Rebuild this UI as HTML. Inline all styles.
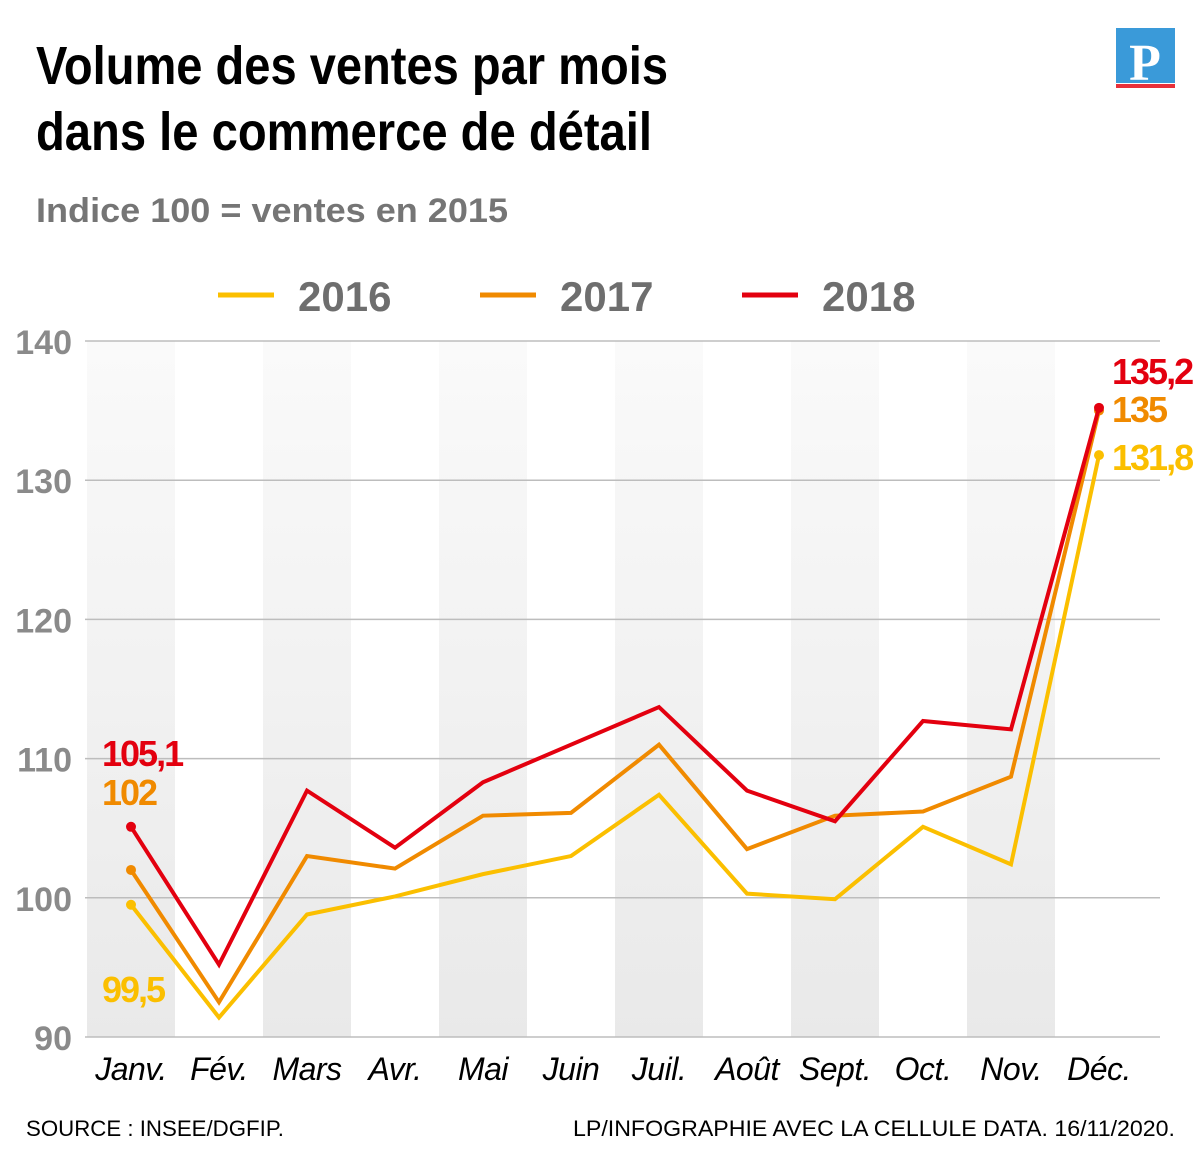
<!DOCTYPE html>
<html><head><meta charset="utf-8"><style>
html,body{margin:0;padding:0;background:#fff;}
svg{display:block;font-family:"Liberation Sans",sans-serif;}
</style></head><body>
<svg id="chart" width="1200" height="1151" viewBox="0 0 1200 1151">
<defs><linearGradient id="stripe" x1="0" y1="0" x2="0" y2="1"><stop offset="0" stop-color="#fafafa"/><stop offset="1" stop-color="#e9e9e9"/></linearGradient></defs>
<text x="36" y="84" font-size="54" font-weight="bold" fill="#000" textLength="632" lengthAdjust="spacingAndGlyphs">Volume des ventes par mois</text>
<text x="36" y="150" font-size="54" font-weight="bold" fill="#000" textLength="616" lengthAdjust="spacingAndGlyphs">dans le commerce de détail</text>
<text x="36" y="222" font-size="34" font-weight="bold" fill="#757575" textLength="472" lengthAdjust="spacingAndGlyphs">Indice 100 = ventes en 2015</text>
<g>
<rect x="1116" y="28" width="59" height="55" fill="#3a9ad9"/>
<rect x="1116" y="84" width="59" height="4" fill="#e8303a"/>
<text x="1145" y="80" font-size="52" font-weight="bold" fill="#fff" text-anchor="middle" font-family="Liberation Serif, serif">P</text>
</g>
<g id="legend"></g>
<g id="stripes"></g><g id="grid"></g><g id="lines"></g><g id="labels"></g>
<text x="26" y="1136" font-size="22" fill="#000" textLength="258" lengthAdjust="spacingAndGlyphs">SOURCE : INSEE/DGFIP.</text>
<text x="1175" y="1136" font-size="22" fill="#000" text-anchor="end" textLength="602" lengthAdjust="spacingAndGlyphs">LP/INFOGRAPHIE AVEC LA CELLULE DATA.  16/11/2020.</text>
</svg>
<script>
const months=["Janv.","Fév.","Mars","Avr.","Mai","Juin","Juil.","Août","Sept.","Oct.","Nov.","Déc."];
const series2016=[99.5,91.4,98.8,100.1,101.7,103.0,107.4,100.3,99.9,105.1,102.4,131.8];
const series2017=[102,92.5,103.0,102.1,105.9,106.1,111.0,103.5,105.9,106.2,108.7,135];
const series2018=[105.1,95.2,107.7,103.6,108.3,111.0,113.7,107.7,105.5,112.7,112.1,135.2];
const yTicks=[90,100,110,120,130,140];
const seriesNames=["2016","2017","2018"];
const colors=["#fbbf00","#f08a00","#e3000f"];
const NS="http://www.w3.org/2000/svg";
const x=i=>131+i*88;
const y=v=>1037-(v-90)*13.92;
function mk(tag,attrs,parent,text){const e=document.createElementNS(NS,tag);for(const k in attrs)e.setAttribute(k,attrs[k]);if(text!==undefined)e.textContent=text;parent.appendChild(e);return e;}
const st=document.getElementById('stripes'),gr=document.getElementById('grid'),ln=document.getElementById('lines'),lb=document.getElementById('labels'),lg=document.getElementById('legend');
months.forEach((m,i)=>{
 if(i%2===0){const r=mk('rect',{x:x(i)-44,y:y(140),width:88,height:y(90)-y(140),fill:'url(#stripe)'},st);
 
 }
 const t=mk('text',{x:x(i),y:1080,'font-size':32,'font-style':'italic','text-anchor':'middle',fill:'#000','letter-spacing':-0.5},lb,m);
 
 
});
yTicks.forEach(v=>{
 const l=mk('line',{x1:85,x2:1160,y1:y(v),y2:y(v),stroke:'#bdbdbd','stroke-width':1.5},gr);
 
 
 const t=mk('text',{x:72,y:y(v)+13,'font-size':34,'font-weight':'bold','text-anchor':'end',fill:'#8a8a8a'},gr,String(v));
 
 
});
[series2016,series2017,series2018].forEach((s,k)=>{
 const p=mk('polyline',{points:s.map((v,i)=>x(i)+','+y(v)).join(' '),fill:'none',stroke:colors[k],'stroke-width':4,'stroke-linejoin':'miter'},ln);
 
 
 [0,11].forEach(i=>{const c=mk('circle',{cx:x(i),cy:y(s[i]),r:5,fill:colors[k]},ln);
 
 });
 const lx=218+k*262;
 const l=mk('line',{x1:lx,x2:lx+56,y1:295,y2:295,stroke:colors[k],'stroke-width':5},lg);
 
 
 const t=mk('text',{x:lx+80,y:311,'font-size':42,'font-weight':'bold',fill:'#6e6e6e'},lg,seriesNames[k]);
 
 
});
const fmt=v=>String(v).replace('.',',');
const endLabels=[[series2018[0],102,766,2],[series2017[0],102,805,1],[series2016[0],102,1002,0],[series2018[11],1112,384,2],[series2017[11],1112,422,1],[series2016[11],1112,470,0]];
endLabels.forEach(a=>{
 const t=mk('text',{x:a[1],y:a[2],'font-size':36,'font-weight':'bold',fill:colors[a[3]],'letter-spacing':-2},lb,fmt(a[0]));
 
 
});
</script>
</body></html>
